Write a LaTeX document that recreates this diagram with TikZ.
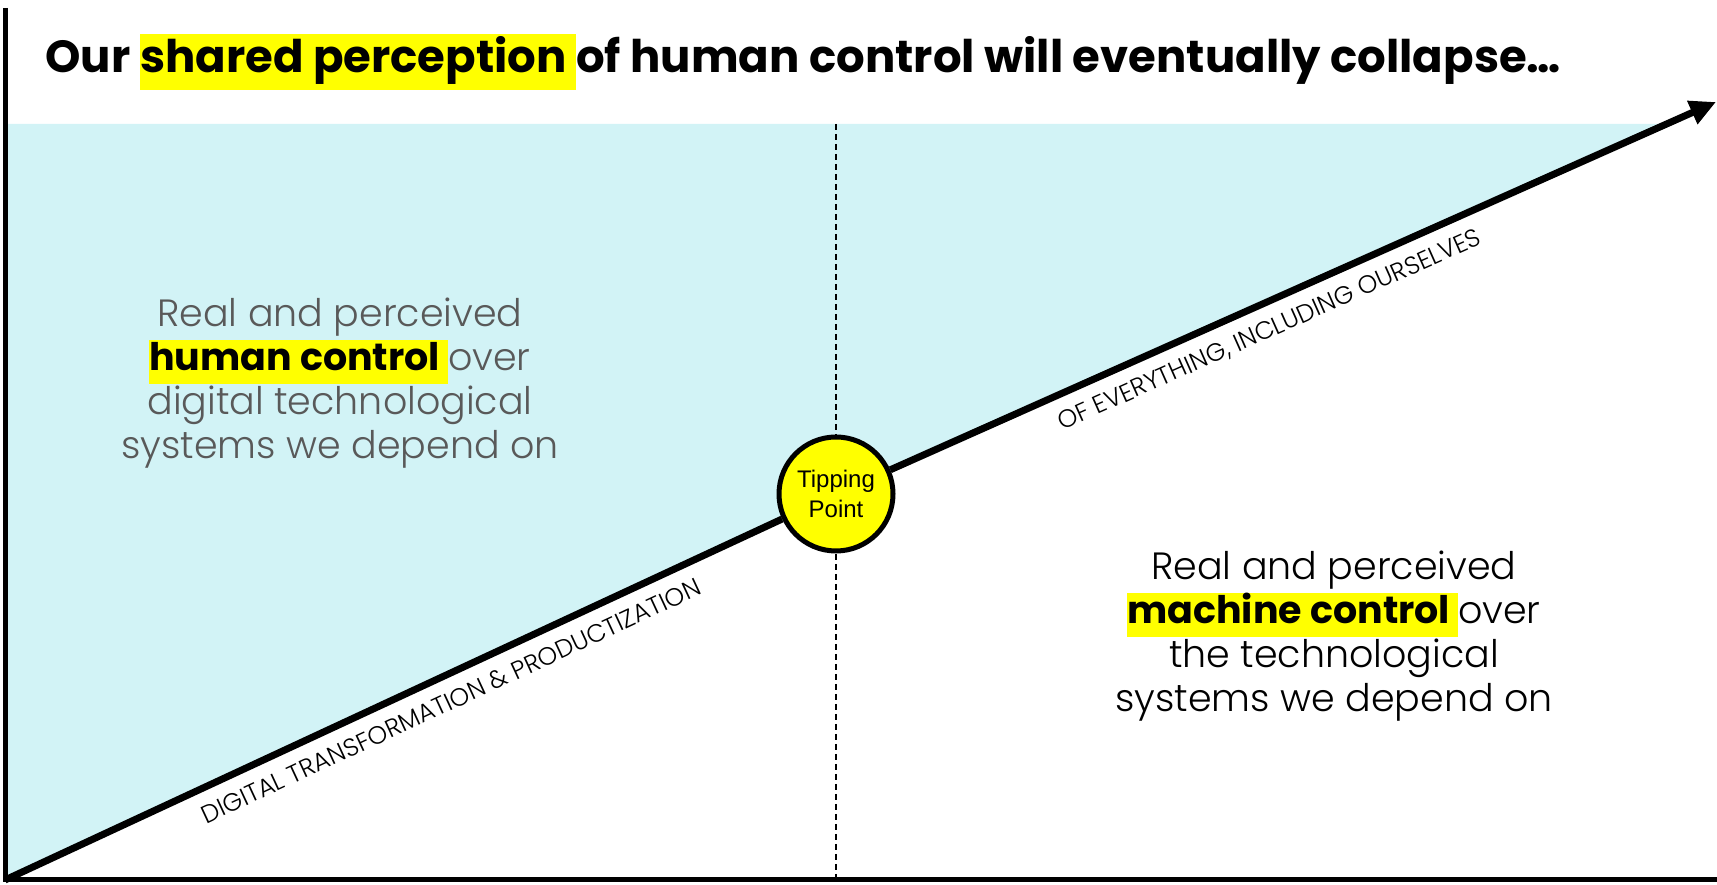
\documentclass[tikz,border=0pt]{standalone}
\usepackage{fontspec}
\setmainfont{Poppins}
\newfontfamily\arialfont{Liberation Sans}
\IfFontExistsTF{Poppins Light}{\newfontfamily\lightfont{Poppins Light}}{\newfontfamily\lightfont{Poppins}}
\usetikzlibrary{arrows.meta}
\definecolor{skyfill}{RGB}{210,243,246}
\definecolor{marker}{RGB}{255,255,0}
\definecolor{softgray}{RGB}{89,89,89}
\newcommand{\marked}[1]{{\setlength{\fboxsep}{0pt}\colorbox{marker}{\strut\normalfont\bfseries\color{black}#1}}}
\tikzset{
    bodytext/.style={align=center,font=\lightfont\fontsize{38}{44}\selectfont},
    axislabel/.style={font=\lightfont\fontsize{25}{28}\selectfont,sloped,inner sep=13pt},
    trend/.style={line width=7pt},
}
\begin{document}
\begin{tikzpicture}[x=1pt,y=1pt]
        \useasboundingbox (0,0) rectangle (1717,885);
        %% shaded part: human control side
        \fill[skyfill] (5,5) -- (5,761) -- (1666,761) -- (836,391) -- cycle;
        \draw[line width=1.5pt,dash pattern=on 6pt off 4pt] (836,761) -- (836,5);
        %% axes
        \draw[line width=5pt] (5,877) -- (5,5) -- (1717,5);
        \coordinate (O) at (5,5);
        \coordinate (T) at (1716,783);
        \node[circle,draw,line width=5pt,fill=marker,minimum size=114pt,inner sep=0pt,align=center,font=\arialfont\fontsize{24}{30}\selectfont] (tp) at (836,391) {Tipping\\Point};
        \draw[trend] (O) -- (tp) node[axislabel,below,pos=0.56] {DIGITAL TRANSFORMATION \& PRODUCTIZATION};
        \draw[trend,-{Triangle[length=26pt,width=24pt]}] (tp) -- (T) node[axislabel,below,pos=0.446] {OF EVERYTHING, INCLUDING OURSELVES};
        %% texts
        \node[anchor=base west,font=\bfseries\fontsize{45}{56}\selectfont] (title) at (42,812) {Our \marked{shared perception\ }of human control will eventually collapse…};
        \node[bodytext,text=softgray] (human) at (340,502) {Real and perceived\\\marked{human control\ }over\\digital technological\\systems we depend on};
        \node[bodytext] (machine) at (1334,249) {Real and perceived\\\marked{machine control\ }over\\the technological\\systems we depend on};
    \end{tikzpicture}
\end{document}
